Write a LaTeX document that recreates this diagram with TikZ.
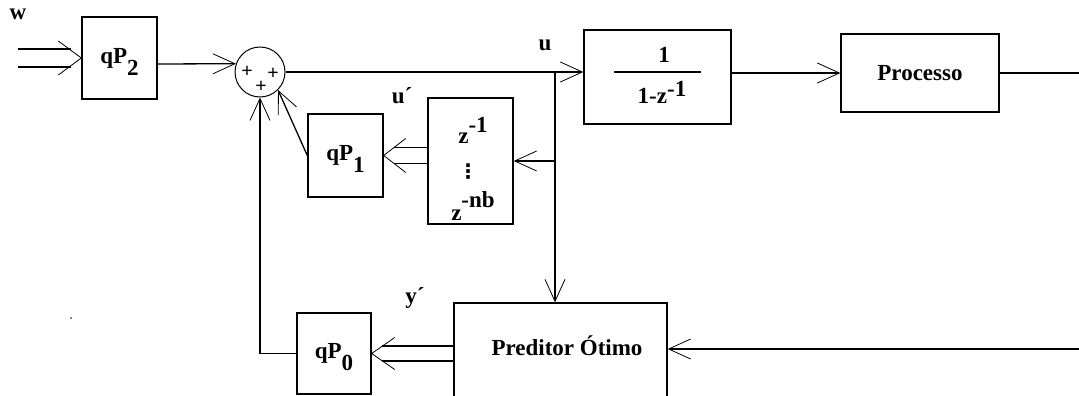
\documentclass[tikz,border=0pt]{standalone}
\usepackage{fontspec}
\setmainfont{Liberation Serif}
\newfontfamily\symfont{DejaVu Sans}
\usetikzlibrary{arrows.meta,calc}
\begin{document}
\begin{tikzpicture}[x=1pt,y=-1pt,
  lbl/.style={font=\fontsize{23}{25}\selectfont\bfseries, inner sep=0pt},
  blk/.style={draw, line width=1.4pt, inner sep=0pt, font=\fontsize{23}{25}\selectfont\bfseries},
  sig/.style={line width=1.3pt},
  barb/.style={sig, -{Straight Barb[length=22pt,width=20pt,line width=0.8pt]}},
  wing/.style={line width=0.8pt},
  pls/.style={font=\fontsize{20}{20}\selectfont\bfseries, inner sep=0pt}]
\useasboundingbox (0,0) rectangle (1079,396);
\clip (0,0) rectangle (1079,396);

% blocks
\node[blk, minimum width=75pt, minimum height=82pt] (q2) at (119.5,58) {qP\raisebox{-12pt}[0pt][0pt]{2}};
\node[draw, circle, line width=1pt, minimum size=50pt, inner sep=0pt] (sum) at (260,72) {};
\node[blk, minimum width=147pt, minimum height=94pt] (g1) at (657.5,77) {};
\node[blk, minimum width=158pt, minimum height=78pt] (proc) at (920,73) {Processo};
\node[blk, minimum width=85pt, minimum height=126pt] (zb) at (470.5,161) {};
\node[blk, minimum width=75pt, minimum height=83pt] (q1) at (345.5,155.5) {qP\raisebox{-12pt}[0pt][0pt]{1}};
\node[blk, minimum width=74pt, minimum height=81pt] (q0) at (334,353.5) {qP\raisebox{-12pt}[0pt][0pt]{0}};
\node[blk, minimum width=213pt, minimum height=100pt] (pred) at (560.5,353) {};
\node[lbl] (predtxt) at (567,346) {Preditor Ótimo};

% transfer function 1/(1-z^-1)
\node[lbl, anchor=base] (g1num) at (664,63) {1};
\node[lbl, anchor=base] (g1den) at (662,103) {1-z\raisebox{7pt}{-1}};
\draw[line width=1.3pt] ($(g1.center)+(-43.5,-5)$) -- ($(g1.center)+(43.5,-5)$);

% delay line z^-1 ... z^-nb
\node[lbl, anchor=base] (zt1) at (473,143) {z\raisebox{11pt}{-1}};
\node[font=\symfont\fontsize{20}{20}\selectfont\bfseries, anchor=base, inner sep=0pt] (zt2) at (468,178) {⋮};
\node[lbl, anchor=base] (zt3) at (473,220) {z\raisebox{13pt}{-nb}};

% signal labels
\node[lbl] (wl) at (18,14) {w};
\node[lbl] (ul) at (545,45) {u};
\node[lbl] (upl) at (402,96) {u´};
\node[lbl] (ypl) at (415,298) {y´};

% summing junction signs
\node[pls] (p1) at (247,72) {+};
\node[pls] (p2) at (273,74) {+};
\node[pls] (p3) at (261,87) {+};

% reference input w (double arrow)
\coordinate (win) at (18,58);
\draw[sig] ($(win)+(0,-9)$) -- ($(q2.west)+(-10,-9)$);
\draw[sig] ($(win)+(0,9)$) -- ($(q2.west)+(-10,9)$);
\draw[wing] ($(q2.west)+(-23,-17)$) -- (q2.west) -- ($(q2.west)+(-23,17)$);

% into the summing junction
\draw[barb] ([yshift=-6pt]q2.east) -- (sum.161);
\draw[barb] (q1.west) -- (sum.-45);
\draw[barb] (q0.west) -| (sum.south);

% control signal u
\draw[barb] (sum.east) -- (sum.east -| g1.west);
\draw[barb] (proc.west -| g1.east) -- (proc.west);
\coordinate (br) at (555,72);
\draw[barb] (br) -- (br |- pred.north);
\draw[barb] (br |- zb.east) -- (zb.east);

% past controls u' (double arrow)
\coordinate (zl) at (q1.east -| zb.west);
\draw[sig] ($(zl)+(0,-8)$) -- ($(q1.east)+(10,-8)$);
\draw[sig] ($(zl)+(0,8)$) -- ($(q1.east)+(10,8)$);
\draw[wing] ($(q1.east)+(22,-17)$) -- (q1.east) -- ($(q1.east)+(22,17)$);

% predictions y' (double arrow)
\coordinate (pl) at (q0.east -| pred.west);
\draw[sig] ($(pl)+(0,-7.5)$) -- ($(q0.east)+(10,-7.5)$);
\draw[sig] ($(pl)+(0,7.5)$) -- ($(q0.east)+(10,7.5)$);
\draw[wing] ($(q0.east)+(23,-16)$) -- (q0.east) -- ($(q0.east)+(23,16)$);

% process output fed back to the predictor
\coordinate (rtop) at (1079,75);
\draw[sig] (proc.east) -- (proc.east -| rtop);
\coordinate (rbot) at (1079,349);
\draw[barb] (rbot) -- (rbot -| pred.east);

\fill (71,318) circle[radius=0.8pt];
\end{tikzpicture}
\end{document}
